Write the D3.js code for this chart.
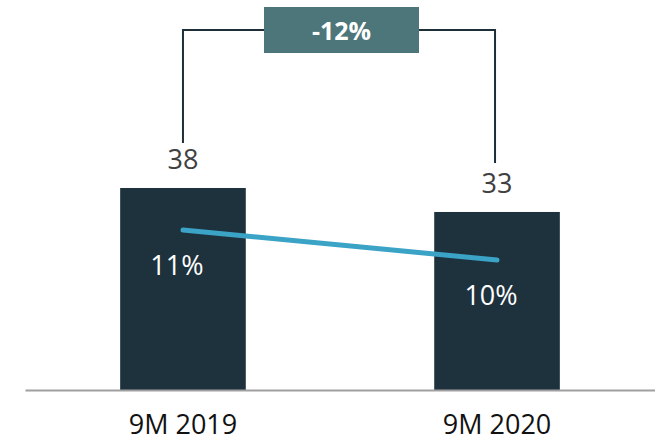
<!DOCTYPE html>
<html><head><meta charset="utf-8">
<script src="https://cdn.jsdelivr.net/npm/d3@7"></script>
<style>html,body{margin:0;padding:0;background:#fff;overflow:hidden}</style>
</head><body><svg id="chart" width="655" height="441"></svg>
<script>
const categories = ["9M 2019", "9M 2020"];
const barValues = [37.9, 33.4];
const marginValues = [11, 10];
const marginLabels = ["11%", "10%"];

const svg = d3.select("#chart");
const font = "'Open Sans', sans-serif";
const baseY = 390;

const x = d3.scaleBand().domain(categories).range([25, 655]).paddingInner(0.6).paddingOuter(0.303);
const y = d3.scaleLinear().domain([0, 40]).range([baseY, baseY - 213.2]);
const y2 = d3.scaleLinear().domain([6, 13]).range([380, 170]);

const data = categories.map((c, i) => ({c, v: barValues[i], m: marginValues[i], ml: marginLabels[i]}));
const cx = d => x(d.c) + x.bandwidth() / 2;

// bars
svg.selectAll("rect.bar").data(data).join("rect").attr("class", "bar")
  .attr("x", d => x(d.c)).attr("width", x.bandwidth())
  .attr("y", d => y(d.v)).attr("height", d => baseY - y(d.v))
  .attr("fill", "#1E323E");

// axis baseline
const xAxis = d3.axisBottom(x).tickSize(0).tickPadding(25);
const gx = svg.append("g").attr("transform", `translate(0,${baseY})`).call(xAxis);
gx.select(".domain").attr("stroke", "#A0A0A0").attr("stroke-width", 2);
gx.selectAll(".tick text").attr("font-family", font).attr("font-size", 27).attr("fill", "#111");

// value labels
const fmt = d3.format(".0f");
svg.selectAll("text.val").data(data).join("text").attr("class", "val")
  .attr("x", d => cx(d)).attr("y", d => y(d.v) - 19)
  .attr("text-anchor", "middle").attr("font-family", font).attr("font-size", 27)
  .attr("fill", "#404040").text(d => fmt(d.v));

// margin line
const line = d3.line().x(d => cx(d)).y(d => y2(d.m));
svg.append("path").datum(data).attr("d", line)
  .attr("fill", "none").attr("stroke", "#3AA3C6").attr("stroke-width", 5).attr("stroke-linecap", "round");

svg.selectAll("text.mlab").data(data).join("text").attr("class", "mlab")
  .attr("x", d => cx(d) - 6).attr("y", d => y2(d.m) + 45)
  .attr("text-anchor", "middle").attr("font-family", font).attr("font-size", 27)
  .attr("fill", "#fff").text(d => d.ml);

// change bracket
const change = barValues[1] / barValues[0] - 1;
const bracketY = 30;
const boxL = 264, boxR = 419;
const x1 = cx(data[0]), x2 = cx(data[1]) - 2;
svg.append("path")
  .attr("d", `M${x1},${y(data[0].v) - 45}V${bracketY}H${boxL}M${boxR},${bracketY}H${x2}V${y(data[1].v) - 49}`)
  .attr("fill", "none").attr("stroke", "#1E2F3A").attr("stroke-width", 2);
svg.append("rect").attr("x", boxL).attr("y", 7).attr("width", boxR - boxL).attr("height", 46).attr("fill", "#4D767B");
svg.append("text").attr("x", (boxL + boxR) / 2).attr("y", 40).attr("text-anchor", "middle")
  .attr("font-family", font).attr("font-weight", "bold").attr("font-size", 25).attr("fill", "#fff")
  .text(d3.format(".0%")(change).replace("−", "-"));
</script></body></html>
